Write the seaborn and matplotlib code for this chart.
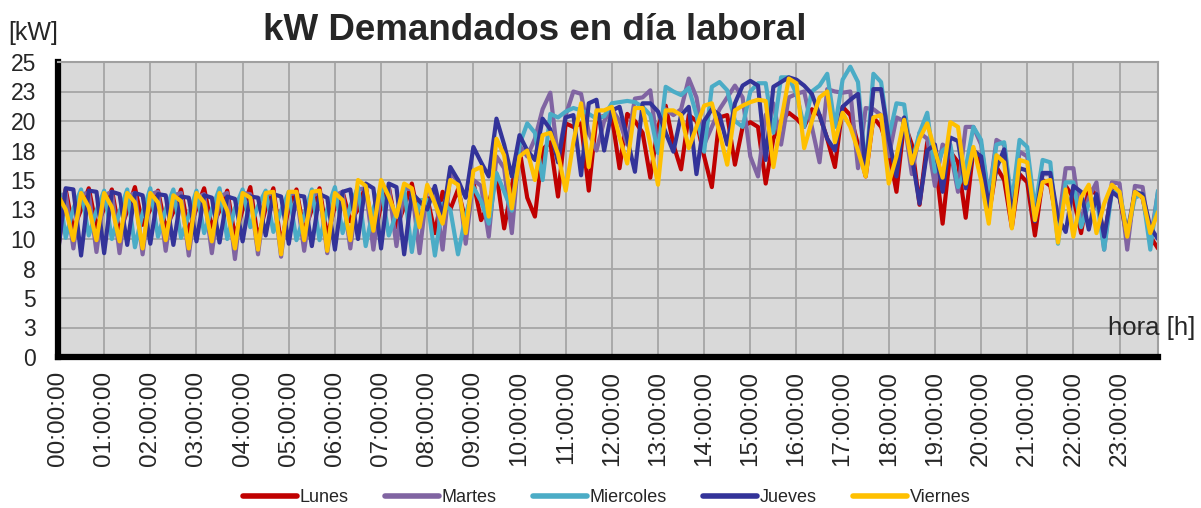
import pandas as pd
import seaborn as sns
import matplotlib.pyplot as plt
from matplotlib.lines import Line2D

# kW cada 10 minutos, 00:00 -> 23:50
dias = ["Lunes", "Martes", "Miercoles", "Jueves", "Viernes"]
colores = ["#C00000", "#8064A2", "#4BACC6", "#333399", "#FFC000"]
horas = [f"{h:02d}:00:00" for h in range(24)]
y_ticks = [0, 2.5, 5, 7.5, 10, 12.5, 15, 17.5, 20, 22.5, 25]
y_labels = ["0", "3", "5", "8", "10", "13", "15", "18", "20", "23", "25"]

lunes = [
    9.0, 14.2, 10.8, 12.5, 14.3, 11.0, 12.6, 14.2, 10.5, 12.4, 14.4, 11.2,
    12.5, 14.1, 10.9, 12.3, 14.2, 10.6, 12.6, 14.3, 11.0, 12.4, 14.1, 10.2,
    12.5, 14.4, 10.0, 12.6, 14.3, 9.5, 12.7, 14.2, 10.6, 12.5, 14.3, 10.2,
    12.8, 14.0, 11.5, 12.5, 14.6, 9.8, 12.9, 14.4, 11.0, 12.7, 14.7, 11.5,
    13.5, 10.5, 14.0, 12.5, 14.2, 11.5, 14.8, 11.6, 13.0, 15.5, 10.9, 14.5,
    17.6, 13.5, 11.9, 17.6, 18.2, 13.6, 19.8, 19.5, 19.8, 14.1, 20.3, 20.4,
    20.4, 16.0, 20.6, 20.0, 19.0, 15.2, 19.5, 21.3, 18.0, 15.9, 20.5, 20.0,
    17.0, 14.4, 20.3, 20.5, 16.3, 19.5, 19.9, 19.5, 14.7, 18.5, 20.0, 20.7,
    20.2, 19.5, 21.0, 20.5, 18.5, 16.1, 21.2, 20.5, 18.0, 15.3, 20.3, 19.5,
    17.5, 14.0, 19.9, 18.0, 12.9, 18.2, 17.0, 11.3, 17.4, 16.5, 11.8, 17.6,
    16.5, 12.0, 16.1, 15.0, 11.0, 15.5, 14.8, 10.3, 15.0, 14.5, 11.0, 14.5,
    13.5, 10.5, 14.3, 13.8, 10.0, 14.2, 13.6, 10.0, 14.0, 13.5, 10.2, 9.2,
]
martes = [
    13.5, 13.9, 9.2, 13.8, 13.9, 8.9, 13.7, 14.0, 8.8, 13.6, 13.9, 8.7,
    13.8, 14.0, 9.0, 13.7, 13.9, 8.6, 13.5, 13.8, 8.8, 13.6, 13.9, 8.3,
    13.9, 13.8, 8.7, 13.7, 13.9, 8.5, 13.8, 13.9, 9.0, 13.6, 14.0, 8.8,
    13.7, 14.0, 9.2, 14.2, 14.3, 9.1, 14.0, 14.4, 9.4, 14.3, 14.2, 8.8,
    14.3, 14.0, 9.1, 15.5, 15.0, 9.6, 15.0, 14.5, 10.2, 17.0, 16.0, 10.5,
    17.9, 17.0, 18.5, 21.0, 22.4, 16.8, 20.5, 22.5, 22.3, 19.0, 17.5, 20.0,
    21.0, 20.0, 18.0, 21.9, 22.0, 22.6, 17.5, 21.0, 20.5, 21.0, 23.6, 22.0,
    18.0, 19.5, 21.0, 22.0, 23.0, 22.0, 17.0, 15.3, 20.5, 21.5, 18.0, 22.0,
    22.3, 22.5, 19.5, 16.5, 22.7, 22.5, 22.4, 22.5, 16.0, 21.1, 21.0, 20.5,
    17.0, 20.3, 20.0, 15.5, 19.0, 18.5, 14.5, 18.0, 17.5, 14.0, 19.5, 19.5,
    18.0, 13.5, 18.4, 18.0, 12.5, 17.4, 17.0, 11.8, 15.5, 15.5, 11.0, 16.0,
    16.0, 11.5, 13.5, 14.8, 9.1, 14.8, 14.7, 9.1, 14.5, 14.4, 9.8, 14.0,
]
miercoles = [
    14.7, 10.1, 12.6, 14.2, 10.3, 12.4, 14.1, 10.0, 12.3, 14.2, 9.3, 12.2,
    14.3, 10.2, 12.5, 14.2, 10.1, 12.0, 14.1, 10.5, 12.5, 14.3, 10.0, 12.6,
    14.2, 11.0, 12.8, 14.1, 10.6, 12.4, 14.0, 9.9, 12.0, 14.2, 9.9, 12.5,
    14.4, 10.5, 12.8, 14.4, 9.4, 12.6, 14.4, 10.3, 12.2, 14.3, 8.9, 13.3,
    13.3, 8.6, 13.0, 12.5, 8.7, 12.0, 14.4, 13.2, 11.3, 15.6, 14.0, 12.4,
    18.0, 19.8, 19.0, 15.0, 20.6, 20.3, 20.8, 21.1, 20.9, 20.6, 20.2, 20.4,
    21.5, 21.6, 21.7, 21.6, 21.2, 20.5, 17.3, 22.9, 22.5, 22.2, 22.8, 20.5,
    17.4, 22.9, 23.3, 22.6, 20.0, 19.5, 22.5, 23.2, 23.2, 19.0, 23.7, 23.7,
    22.3, 19.5, 22.5, 23.0, 24.0, 19.5, 23.5, 24.6, 23.3, 15.8, 24.0, 23.3,
    18.6, 21.5, 21.4, 16.5, 19.0, 20.7, 15.7, 17.5, 18.0, 14.4, 16.0, 19.5,
    18.4, 13.5, 18.0, 18.2, 13.0, 18.4, 17.8, 12.5, 16.7, 16.5, 9.6, 14.8,
    14.8, 11.0, 13.0, 13.5, 9.1, 14.0, 14.0, 10.5, 13.5, 13.8, 9.1, 14.1,
]
jueves = [
    8.8, 14.3, 14.2, 8.6, 14.1, 14.0, 8.8, 14.0, 13.8, 9.5, 13.9, 13.7,
    9.6, 13.8, 13.7, 9.5, 13.6, 13.5, 9.8, 13.7, 13.5, 9.7, 13.6, 13.4,
    9.8, 13.6, 13.5, 10.3, 13.8, 13.6, 9.6, 13.7, 13.6, 9.4, 13.8, 13.5,
    9.1, 14.0, 14.2, 10.0, 14.7, 14.3, 9.2, 14.7, 14.4, 8.7, 13.9, 13.2,
    12.5, 14.5, 11.8, 16.1, 15.0, 13.5, 17.8, 16.5, 15.3, 20.2, 18.0, 15.3,
    18.8, 17.5, 16.7, 20.2, 19.3, 16.5, 20.3, 20.5, 15.4, 21.5, 21.8, 17.5,
    20.9, 21.2, 18.5, 15.7, 21.5, 21.5, 20.8, 19.0, 17.4, 20.5, 21.2, 15.5,
    20.0, 21.0, 20.5, 18.0, 21.5, 23.0, 23.4, 23.0, 16.7, 22.9, 23.3, 23.7,
    23.5, 23.0, 22.3, 20.5, 18.5, 17.5, 21.2, 21.8, 22.3, 15.8, 22.7, 22.7,
    18.5, 15.3, 20.3, 17.0, 13.0, 17.5, 18.0, 14.0, 18.6, 18.3, 14.3, 17.5,
    17.0, 12.8, 16.0, 17.6, 12.0, 16.0, 15.8, 11.5, 15.6, 15.6, 11.8, 10.6,
    14.5, 14.0, 10.8, 13.8, 10.2, 14.0, 13.5, 10.5, 14.0, 13.8, 11.0, 10.0,
]
viernes = [
    13.7, 12.5, 9.9, 13.9, 12.7, 9.9, 13.9, 12.7, 9.8, 13.9, 13.1, 9.2,
    13.9, 13.1, 9.9, 13.7, 13.2, 9.2, 13.9, 13.1, 9.8, 13.9, 12.4, 9.2,
    13.9, 13.5, 9.1, 13.9, 14.0, 8.7, 14.0, 14.0, 9.9, 14.0, 14.1, 9.0,
    13.9, 13.3, 9.9, 15.0, 14.5, 10.7, 15.0, 13.6, 11.9, 14.7, 14.3, 11.0,
    14.6, 13.0, 11.3, 15.0, 14.6, 10.5, 15.8, 16.1, 11.9, 18.5, 17.1, 12.6,
    17.0, 17.5, 15.0, 18.8, 19.0, 17.2, 14.1, 18.2, 21.5, 16.1, 20.9, 20.9,
    21.2, 18.6, 16.4, 21.1, 21.1, 18.0, 14.6, 20.9, 20.9, 20.5, 17.7, 19.5,
    21.3, 21.5, 19.0, 16.3, 20.9, 21.3, 21.6, 21.8, 21.7, 16.1, 20.0, 23.6,
    23.2, 17.7, 20.0, 22.0, 22.5, 18.2, 20.7, 19.5, 17.5, 15.3, 20.3, 20.5,
    14.7, 17.0, 20.1, 16.4, 18.5, 19.8, 17.5, 15.2, 19.9, 19.5, 14.7, 17.8,
    15.0, 11.3, 17.1, 16.5, 10.9, 16.7, 16.5, 11.6, 14.8, 15.0, 9.7, 14.2,
    10.2, 13.5, 14.6, 10.5, 13.0, 14.6, 14.0, 10.2, 14.0, 13.5, 10.5, 12.3,
]

wide = pd.DataFrame({"Lunes": lunes, "Martes": martes, "Miercoles": miercoles,
                     "Jueves": jueves, "Viernes": viernes})
wide["paso"] = range(len(wide))
df = wide.melt(id_vars="paso", var_name="dia", value_name="kW")

sns.set_style("white")
plt.rcParams["font.family"] = ["Liberation Sans", "DejaVu Sans"]

fig = plt.figure(figsize=(12.01, 5.08), dpi=100)
ax = fig.add_axes([58 / 1201, 1 - 357 / 508, 1100 / 1201, 295 / 508])
ax.set_facecolor("#D9D9D9")

sns.lineplot(data=df, x="paso", y="kW", hue="dia", hue_order=dias,
             palette=colores, linewidth=3.0, legend=False, ax=ax)

ax.set_xlim(0, len(wide) - 1)
ax.set_ylim(0, 25)
ax.set_xticks(range(0, len(wide), 6))
ax.set_xticklabels(horas, rotation=90, fontsize=17.5)
ax.set_yticks(y_ticks)
ax.set_yticklabels(y_labels, fontsize=16.5)
ax.set_xlabel("")
ax.set_ylabel("")
ax.grid(True, color="#A6A6A6", linewidth=1.3)
ax.set_axisbelow(True)

for s in ["left", "bottom"]:
    ax.spines[s].set_color("black")
    ax.spines[s].set_linewidth(4.5)
for s in ["top", "right"]:
    ax.spines[s].set_color("#A0A0A0")
    ax.spines[s].set_linewidth(1.5)
ax.tick_params(axis="y", direction="out", length=6, width=4, color="black", pad=10)
ax.tick_params(axis="x", direction="out", length=5, width=4, color="black", pad=5)

fig.text(535 / 1201, 1 - 30 / 508, "kW Demandados en día laboral",
         ha="center", va="center", fontsize=26.5, fontweight="bold")
fig.text(8 / 1201, 1 - 33 / 508, "[kW]", ha="left", va="center", fontsize=18)
fig.text(1195 / 1201, 1 - 328 / 508, "hora [h]", ha="right", va="center", fontsize=18.5)

handles = [Line2D([], [], color=c, linewidth=4) for c in colores]
fig.legend(handles, dias, loc="lower center", bbox_to_anchor=(0.505, 0.0),
           ncol=5, frameon=False, fontsize=13, handlelength=3.0,
           handletextpad=0.15, columnspacing=2.0, borderpad=0.1,
           borderaxespad=0.0)

fig.savefig("out.png", dpi=100)
